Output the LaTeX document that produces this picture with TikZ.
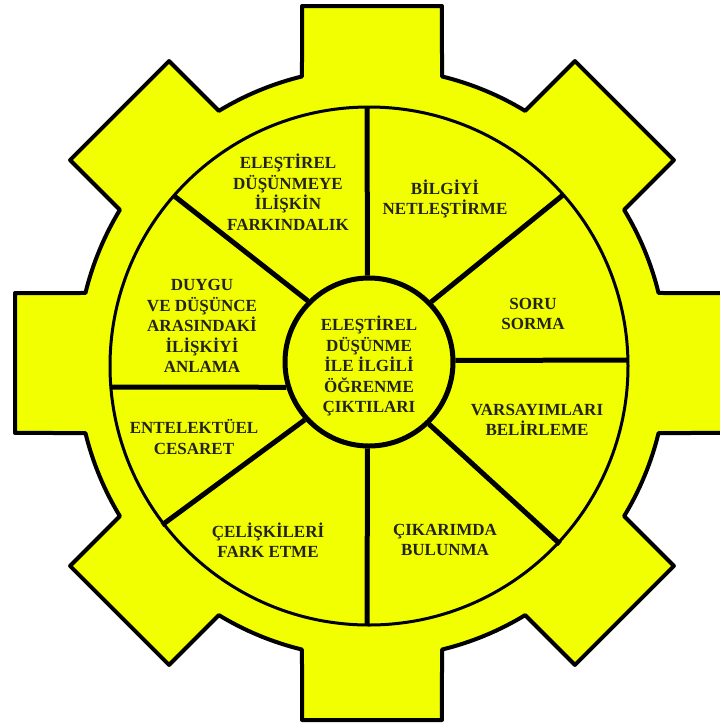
\documentclass[tikz,border=0pt]{standalone}
\usepackage{fontspec}
\setmainfont{Liberation Serif}
\definecolor{gearyellow}{RGB}{242,255,0}
\definecolor{txt}{RGB}{35,35,25}
\begin{document}
\begin{tikzpicture}[x=1pt,y=-1pt,
  gearline/.style={draw=black, line width=4pt, line join=round, fill=gearyellow},
  ringline/.style={draw=black, line width=3pt},
  spoke/.style={draw=black, line width=5pt},
  hub/.style={circle, draw=black, line width=5pt, fill=gearyellow, minimum size=168pt, inner sep=0pt},
  lbl/.style={font=\fontsize{17}{20.5}\selectfont\bfseries, text=txt, align=center, inner sep=0pt}]
\useasboundingbox (0,0) rectangle (720,724);
\clip (0,0) rectangle (720,724);
% gear body with 8 teeth
\begin{scope}[shift={(372,363)}]
\draw[gearline] (-13.73:295)
  \foreach \a in {0,45,...,315}{
    -- (\a-11.09:363.8) -- (\a+11.09:363.8) -- (\a+13.73:295)
    arc[start angle=\a+13.73, end angle=\a+31.27, radius=295]
  } -- cycle;
\end{scope}
% inner ring
\draw[ringline] (369,366) circle[radius=259];
% hub
\node[hub] (c) at (369,362) {};
% outer ends of spokes
\coordinate (o1) at (367,107);
\coordinate (o2) at (563,195);
\coordinate (o3) at (628,360);
\coordinate (o4) at (560,544);
\coordinate (o5) at (367,625);
\coordinate (o6) at (162,525);
\coordinate (o7) at (110,387);
\coordinate (o8) at (173,195);
\draw[spoke] (c.91) -- (o1);
\draw[spoke] (c.44.6) -- (o2);
\draw[spoke] (c.1.5) -- (o3);
\draw[spoke] (c.-46.8) -- (o4);
\draw[spoke] (c.-91) -- (o5);
\draw[spoke] (c.-138) -- (o6);
\draw[spoke] (c.-163.4) -- (o7);
\draw[spoke] (c.135.4) -- (o8);
% labels
\node[lbl] (t0) at (369,366) {ELEŞTİREL\\DÜŞÜNME\\İLE İLGİLİ\\ÖĞRENME\\ÇIKTILARI};
\node[lbl] (t1) at (288,192) {ELEŞTİREL\\DÜŞÜNMEYE\\İLİŞKİN\\FARKINDALIK};
\node[lbl] (t2) at (445,199) {BİLGİYİ\\NETLEŞTİRME};
\node[lbl] (t3) at (533,314) {SORU\\SORMA};
\node[lbl] (t4) at (537,420) {VARSAYIMLARI\\BELİRLEME};
\node[lbl] (t5) at (445,540) {ÇIKARIMDA\\BULUNMA};
\node[lbl] (t6) at (268,540) {ÇELİŞKİLERİ\\FARK ETME};
\node[lbl] (t7) at (194,437) {ENTELEKTÜEL\\CESARET};
\node[lbl] (t8) at (202,326) {DUYGU\\VE DÜŞÜNCE\\ARASINDAKİ\\İLİŞKİYİ\\ANLAMA};
\end{tikzpicture}
\end{document}
